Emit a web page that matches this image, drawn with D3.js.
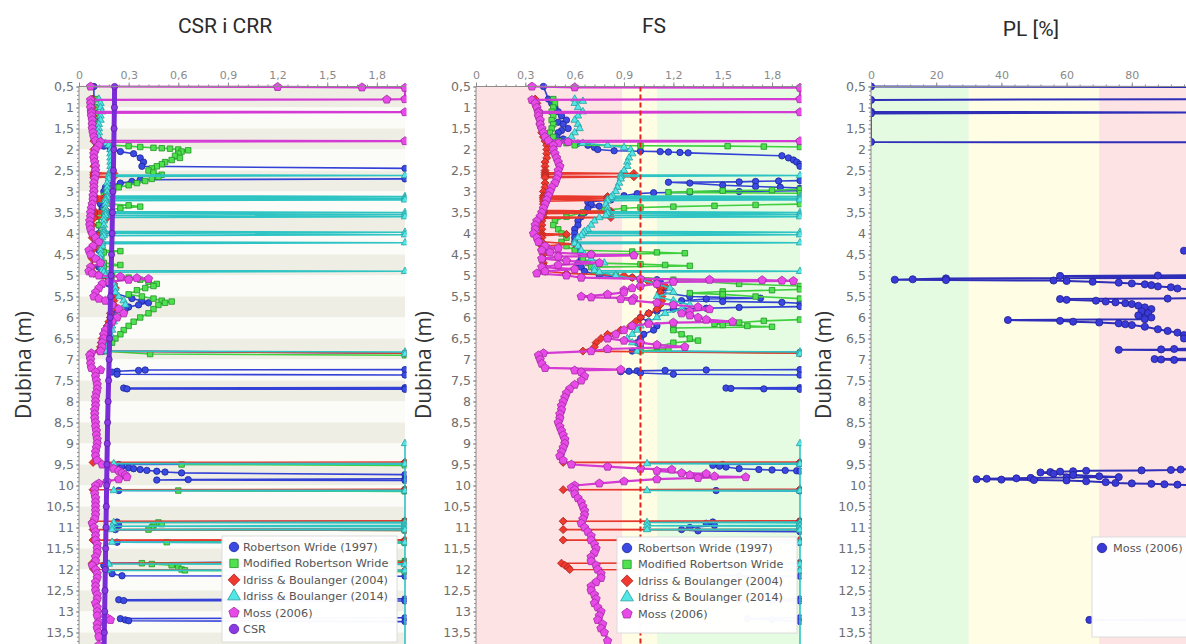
<!DOCTYPE html>
<html><head><meta charset="utf-8">
<script src="https://cdn.jsdelivr.net/npm/d3@7"></script>
<style>body{margin:0;background:#fff}svg{display:block}</style>
</head><body><svg id="c" width="1186" height="644"></svg>
<script>
// ---------------- DATA ----------------
const depthTicks = [0.5,1,1.5,2,2.5,3,3.5,4,4.5,5,5.5,6,6.5,7,7.5,8,8.5,9,9.5,10,10.5,11,11.5,12,12.5,13,13.5];
const ratioTicks = [0,0.3,0.6,0.9,1.2,1.5,1.8];
const plTicks = [0,20,40,60,80];
const titles = ["CSR i CRR","FS","PL [%]"];
const depthLabel = "Dubina (m)";
const methodNames = ["Robertson Wride (1997)","Modified Robertson Wride","Idriss & Boulanger (2004)","Idriss & Boulanger (2014)","Moss (2006)","CSR"];
const fsZones = [0.89, 1.1];
const fsLimit = 1.0;
const plZones = [30, 70];

// [depth (m), value]; null = break in the line (value beyond the plotted range)
const csr = [[0.5,0.215],[1,0.214],[1.5,0.212],[2,0.21],[2.5,0.208],[3,0.205],[3.5,0.202],[4,0.2],[4.5,0.197],[5,0.194],[5.5,0.191],[6,0.188],[6.5,0.185],[7,0.182],[7.5,0.179],[8,0.176],[8.5,0.173],[9,0.171],[9.5,0.169],[10,0.167],[10.5,0.165],[11,0.163],[11.5,0.161],[12,0.159],[12.5,0.157],[13,0.155],[13.5,0.153],[14,0.151]];

const crrRW = [[0.5,0.09],[0.8,0.09],[1.0,0.1],[1.2,0.11],[1.4,0.11],[1.6,0.11],[1.8,0.12],[1.92,0.15],[2.0,0.19],[2.05,0.25],[2.1,0.33],[2.2,0.37],[2.3,0.39],[2.4,0.38],[2.45,2],null,[2.7,2],[2.72,0.37],[2.76,0.32],[2.8,0.25],[2.85,0.2],[2.9,0.16],[3.0,0.15],[3.2,0.13],[3.3,0.13],[3.4,0.14],[3.5,0.13],[3.6,0.12],[3.8,0.12],[4.0,0.12],[4.2,0.12],[4.4,0.12],[4.6,0.13],[4.8,0.12],[4.95,0.13],[5.0,0.15],[5.2,0.18],[5.4,0.2],[5.55,0.32],[5.6,0.38],[5.65,0.42],[5.7,0.36],[5.75,0.3],[5.8,0.28],[5.9,0.22],[6.0,0.2],[6.2,0.18],[6.4,0.17],[6.6,0.16],[6.8,0.15],[6.85,2],null,[7.24,2],[7.25,0.4],[7.26,0.36],[7.28,0.23],[7.3,0.2],[7.35,0.23],[7.37,2],null,[7.67,2],[7.68,0.27],[7.7,0.29],[7.71,2],null,[9.48,2],[9.5,0.24],[9.55,0.26],[9.58,0.3],[9.6,0.33],[9.62,0.37],[9.64,0.41],[9.66,0.47],[9.68,0.52],[9.7,0.62],[9.74,2],null,[9.84,2],[9.86,0.66],[9.87,0.47],[9.88,2],null,[10.1,2],[10.12,0.24],[10.13,2],null,[10.85,2],[10.87,0.23],[10.9,0.23],[10.95,0.24],[11.05,0.22],[11.06,2],null,[11.33,2],[11.35,0.23],[11.36,2],null,[11.8,2],[11.85,0.17],[11.9,0.15],[12.0,0.16],[12.1,0.2],[12.15,0.26],[12.16,2],null,[12.7,2],[12.72,0.24],[12.74,0.27],[12.75,2],null,[13.15,2],[13.17,0.25],[13.2,0.28],[13.22,0.3],[13.24,2],null];

const crrMRW = [[0.8,0.1],[1.0,0.1],[1.2,0.1],[1.4,0.1],[1.6,0.1],[1.8,0.11],[1.9,0.2],[1.92,0.3],[1.94,0.37],[1.96,0.45],[1.97,0.5],[1.98,0.55],[2.0,0.6],[2.02,0.66],[2.05,0.62],[2.1,0.6],[2.15,0.58],[2.2,0.61],[2.25,0.56],[2.3,0.52],[2.35,0.5],[2.4,0.47],[2.45,0.44],[2.5,0.42],[2.55,0.45],[2.6,0.5],[2.65,0.48],[2.7,0.44],[2.75,0.4],[2.8,0.35],[2.85,0.3],[2.9,0.24],[2.95,0.2],[3.0,0.17],[3.1,0.15],[3.2,0.14],[3.3,0.2],[3.33,0.3],[3.36,0.37],[3.4,0.25],[3.45,0.15],[3.6,0.12],[3.8,0.12],[4.0,0.13],[4.2,0.13],[4.4,0.14],[4.42,0.25],[4.45,0.15],[4.7,0.15],[4.75,0.25],[4.8,0.15],[4.95,0.15],[5.0,0.2],[5.05,0.3],[5.1,0.37],[5.15,0.42],[5.2,0.47],[5.25,0.45],[5.3,0.4],[5.35,0.35],[5.45,0.3],[5.5,0.38],[5.55,0.45],[5.6,0.5],[5.62,0.56],[5.65,0.52],[5.7,0.48],[5.8,0.45],[5.9,0.42],[6.0,0.37],[6.1,0.33],[6.2,0.3],[6.3,0.27],[6.4,0.25],[6.5,0.22],[6.6,0.2],[6.7,0.18],[6.8,0.16],[6.87,0.43],[6.9,2],null,[9.48,2],[9.5,0.62],[9.52,2],null,[10.1,2],[10.12,0.6],[10.14,2],null,[10.85,2],[10.88,0.48],[10.92,0.5],[10.95,0.45],[11.0,0.44],[11.05,0.42],[11.07,2],null,[11.33,2],[11.35,0.53],[11.37,2],null,[11.8,2],[11.85,0.38],[11.87,0.44],[11.9,0.56],[11.95,0.6],[12.0,0.62],[12.02,0.64],[12.05,2],null];

const crrIB04 = [[0.8,0.08],[1.0,0.08],[1.2,0.085],[1.4,0.085],[1.6,0.09],[1.8,0.09],[2.0,0.09],[2.2,0.09],[2.4,0.09],[2.55,0.09],[2.57,0.21],[2.59,0.09],[2.63,0.09],[2.65,0.21],[2.67,0.09],[2.8,0.09],[3.0,0.09],[3.1,0.09],[3.12,0.16],[3.14,0.09],[3.17,0.16],[3.19,0.09],[3.22,0.16],[3.24,0.09],[3.45,0.09],[3.47,0.17],[3.49,0.09],[3.52,0.17],[3.54,0.09],[3.6,0.09],[3.62,0.17],[3.64,0.09],[3.8,0.08],[4.0,0.08],[4.05,0.12],[4.1,0.08],[4.3,0.09],[4.35,0.12],[4.4,0.08],[4.6,0.08],[4.8,0.08],[4.95,0.09],[5.0,0.15],[5.1,0.19],[5.2,0.21],[5.3,0.22],[5.4,0.21],[5.5,0.21],[5.6,0.21],[5.7,0.21],[5.8,0.2],[5.9,0.19],[6.0,0.19],[6.1,0.18],[6.2,0.17],[6.3,0.16],[6.4,0.15],[6.5,0.14],[6.6,0.135],[6.7,0.13],[6.8,0.12],[6.85,2],null,[9.44,2],[9.45,0.085],[9.46,2],null,[10.09,2],[10.1,0.085],[10.11,2],null,[10.84,2],[10.85,0.085],[10.87,2],null,[11.03,2],[11.05,0.085],[11.07,2],null,[11.29,2],[11.3,0.085],[11.31,2],null,[11.83,2],[11.85,0.08],[11.9,0.085],[11.95,0.09],[12.0,0.09],[12.02,2],null];

const crrIB14 = [[0.8,0.12],[0.9,0.13],[1.0,0.13],[1.1,0.14],[1.2,0.13],[1.3,0.13],[1.4,0.12],[1.5,0.12],[1.6,0.12],[1.7,0.12],[1.8,0.13],[1.85,0.16],[1.9,0.18],[2.0,0.19],[2.1,0.19],[2.2,0.19],[2.3,0.19],[2.4,0.19],[2.5,0.19],[2.6,0.18],[2.62,2],[2.64,0.18],[2.7,0.18],[2.8,0.17],[2.9,0.17],[3.0,0.17],[3.1,0.17],[3.12,2],[3.14,0.17],[3.16,2],[3.18,0.16],[3.2,2],[3.22,0.16],[3.3,0.16],[3.4,0.16],[3.48,0.16],[3.5,2],[3.52,0.16],[3.55,2],[3.57,0.16],[3.6,2],[3.62,0.15],[3.7,0.15],[3.8,0.15],[3.9,0.15],[3.95,0.15],[3.97,2],[3.99,0.15],[4.03,2],[4.05,0.15],[4.1,0.14],[4.2,0.14],[4.22,2],[4.24,0.14],[4.3,0.14],[4.4,0.13],[4.5,0.13],[4.6,0.13],[4.7,0.14],[4.8,0.14],[4.88,0.14],[4.9,2],[4.92,0.15],[5.0,0.16],[5.1,0.19],[5.2,0.21],[5.3,0.22],[5.4,0.22],[5.5,0.24],[5.6,0.27],[5.7,0.28],[5.8,0.26],[5.9,0.24],[6.0,0.22],[6.1,0.21],[6.2,0.2],[6.3,0.2],[6.4,0.19],[6.5,0.18],[6.6,0.18],[6.7,0.17],[6.8,0.16],[6.82,2],[6.87,2],null,[9.0,2],[9.47,2],[9.48,0.21],[9.49,2],[10.11,2],[10.12,0.21],[10.13,2],[10.87,2],[10.88,0.21],[10.89,2],[10.95,2],[10.97,0.2],[10.98,2],[11.03,2],[11.05,0.2],[11.06,2],[11.34,2],[11.35,0.2],[11.36,2],[11.86,2],[11.87,0.18],[11.88,2],[12.01,2],[12.02,0.17],[12.03,2],[14.2,2]];

const crrMoss = [[0.5,0.07],[0.51,1.2],[0.52,1.71],[0.53,2],[0.8,2],[0.81,1.86],[0.82,0.07],[0.9,0.07],[1.0,0.07],[1.1,0.075],[1.11,2],[1.13,0.075],[1.2,0.075],[1.3,0.08],[1.4,0.08],[1.5,0.08],[1.6,0.085],[1.7,0.09],[1.79,0.1],[1.8,2],[1.82,0.13],[1.9,0.12],[2.0,0.1],[2.1,0.09],[2.2,0.09],[2.3,0.095],[2.4,0.1],[2.5,0.1],[2.6,0.1],[2.7,0.095],[2.8,0.09],[2.9,0.09],[3.0,0.09],[3.1,0.085],[3.2,0.085],[3.3,0.08],[3.4,0.075],[3.5,0.07],[3.6,0.07],[3.7,0.065],[3.8,0.065],[3.9,0.07],[4.0,0.08],[4.1,0.1],[4.2,0.12],[4.3,0.085],[4.4,0.06],[4.5,0.07],[4.6,0.1],[4.7,0.13],[4.8,0.07],[4.9,0.06],[4.95,0.08],[5.0,0.12],[5.03,0.25],[5.06,0.35],[5.08,0.42],[5.1,0.3],[5.15,0.18],[5.2,0.14],[5.3,0.12],[5.4,0.1],[5.5,0.09],[5.55,0.12],[5.6,0.16],[5.7,0.2],[5.8,0.24],[5.9,0.27],[6.0,0.23],[6.1,0.2],[6.2,0.18],[6.3,0.16],[6.4,0.15],[6.5,0.15],[6.6,0.14],[6.7,0.14],[6.8,0.13],[6.85,0.075],[6.9,0.065],[7.0,0.07],[7.1,0.07],[7.2,0.075],[7.25,0.13],[7.3,0.1],[7.4,0.1],[7.5,0.105],[7.6,0.11],[7.7,0.11],[7.8,0.105],[7.9,0.1],[8.0,0.1],[8.1,0.1],[8.2,0.095],[8.3,0.095],[8.4,0.095],[8.5,0.1],[8.6,0.1],[8.7,0.105],[8.8,0.105],[8.9,0.11],[9.0,0.11],[9.1,0.105],[9.2,0.1],[9.3,0.1],[9.4,0.11],[9.5,0.14],[9.55,0.18],[9.6,0.21],[9.65,0.24],[9.7,0.26],[9.75,0.28],[9.8,0.29],[9.85,0.24],[9.9,0.17],[9.95,0.12],[10.0,0.1],[10.1,0.095],[10.2,0.095],[10.3,0.1],[10.4,0.1],[10.5,0.1],[10.6,0.1],[10.7,0.1],[10.8,0.095],[10.9,0.08],[11.0,0.09],[11.1,0.1],[11.2,0.1],[11.3,0.1],[11.4,0.11],[11.5,0.11],[11.6,0.11],[11.7,0.1],[11.8,0.1],[11.9,0.08],[12.0,0.1],[12.1,0.11],[12.2,0.11],[12.3,0.1],[12.4,0.1],[12.5,0.1],[12.6,0.11],[12.7,0.11],[12.8,0.1],[12.9,0.11],[13.0,0.11],[13.1,0.11],[13.15,0.17],[13.2,0.19],[13.25,0.12],[13.3,0.11],[13.4,0.11],[13.5,0.12],[13.6,0.12],[13.8,0.12],[14.0,0.12]];

const fsRW = [[0.5,0.41],[0.8,0.44],[0.9,0.46],[1.0,0.48],[1.1,0.5],[1.2,0.52],[1.3,0.55],[1.35,0.5],[1.4,0.53],[1.5,0.56],[1.55,0.52],[1.6,0.5],[1.7,0.49],[1.75,0.53],[1.8,0.56],[1.85,0.62],[1.9,0.68],[1.95,0.72],[2.0,0.74],[2.03,0.84],[2.04,1.0],[2.05,1.12],[2.06,1.17],[2.07,1.24],[2.08,1.29],[2.15,1.86],[2.2,1.9],[2.25,1.93],[2.3,1.95],[2.35,1.98],[2.4,2],null,[2.74,2],[2.75,1.84],[2.76,1.7],[2.77,1.6],[2.78,1.17],[2.8,1.3],[2.85,1.5],[2.88,1.7],[2.9,1.85],[2.92,2],null,[2.98,2],[3.0,1.6],[3.02,1.3],[3.03,1.08],[3.05,0.98],[3.1,0.9],[3.2,0.82],[3.25,0.68],[3.3,0.7],[3.35,0.75],[3.4,0.68],[3.5,0.66],[3.6,0.64],[3.7,0.62],[3.8,0.62],[3.9,0.6],[4.0,0.6],[4.1,0.6],[4.2,0.6],[4.3,0.62],[4.4,0.62],[4.5,0.64],[4.6,0.64],[4.7,0.62],[4.8,0.64],[4.9,0.66],[5.0,0.75],[5.05,0.95],[5.1,1.1],[5.15,1.12],[5.2,1.1],[5.3,1.15],[5.4,1.12],[5.5,1.3],[5.52,1.5],[5.54,1.73],[5.56,1.4],[5.6,1.25],[5.62,1.5],[5.64,1.86],[5.66,2],null,[5.74,2],[5.76,1.6],[5.78,1.4],[5.8,1.2],[5.85,1.1],[5.9,1.05],[6.0,1.0],[6.1,1.05],[6.2,1.1],[6.3,1.08],[6.4,1.02],[6.5,1.0],[6.6,0.98],[6.7,1.0],[6.8,0.95],[6.83,2],null,[7.24,2],[7.25,1.4],[7.26,1.15],[7.27,0.98],[7.28,0.93],[7.29,0.88],[7.32,1.0],[7.35,1.2],[7.37,2],null,[7.67,2],[7.68,1.52],[7.69,1.55],[7.7,1.75],[7.71,2],null,[9.49,2],[9.5,1.5],[9.52,1.44],[9.54,1.48],[9.56,1.52],[9.6,1.6],[9.62,1.72],[9.63,1.8],[9.64,1.88],[9.65,1.95],[9.66,2],null,[10.11,2],[10.12,1.46],[10.13,2],null,[10.85,2],[10.87,1.44],[10.9,1.4],[10.95,1.45],[11.0,1.3],[11.05,1.25],[11.08,1.35],[11.1,2],null,[11.34,2],[11.35,1.45],[11.36,2],null,[11.84,2],[11.85,1.1],[11.9,1.0],[12.0,1.05],[12.1,1.3],[12.15,1.6],[12.16,2],null,[12.7,2],[12.72,1.6],[12.74,1.8],[12.75,2],null,[13.15,2],[13.17,1.65],[13.2,1.8],[13.24,2],null];

const fsMRW = [[0.8,0.47],[0.9,0.48],[1.0,0.47],[1.1,0.46],[1.2,0.47],[1.3,0.46],[1.4,0.47],[1.5,0.46],[1.6,0.45],[1.7,0.47],[1.8,0.5],[1.85,0.55],[1.9,0.6],[1.91,1.0],[1.92,1.53],[1.93,1.75],[1.94,2],null,[2.95,2],[2.97,1.8],[2.98,1.5],[3.0,1.3],[3.02,1.17],[3.04,2],null,[3.3,2],[3.32,1.7],[3.34,1.45],[3.36,1.2],[3.38,1.0],[3.4,0.9],[3.45,0.78],[3.5,0.65],[3.6,0.55],[3.7,0.48],[3.8,0.47],[3.9,0.5],[4.0,0.52],[4.1,0.55],[4.2,0.52],[4.3,0.55],[4.4,0.6],[4.43,0.95],[4.45,1.1],[4.47,1.27],[4.5,0.7],[4.6,0.65],[4.7,0.68],[4.73,1.0],[4.75,1.15],[4.77,1.3],[4.8,0.7],[4.9,0.72],[5.0,0.85],[5.1,1.2],[5.2,1.6],[5.25,2],null,[5.33,2],[5.35,1.8],[5.38,1.5],[5.42,1.3],[5.45,1.5],[5.5,1.7],[5.55,2],null,[6.05,2],[6.08,1.75],[6.12,1.6],[6.15,1.45],[6.18,1.5],[6.2,1.65],[6.22,1.8],[6.25,1.2],[6.3,1.2],[6.4,1.25],[6.5,1.3],[6.55,1.35],[6.6,1.2],[6.7,1.1],[6.75,1.17],[6.8,1.0],[6.85,2],null];

const fsIB04 = [[0.8,0.36],[0.9,0.37],[1.0,0.37],[1.1,0.38],[1.2,0.38],[1.3,0.39],[1.4,0.39],[1.5,0.4],[1.6,0.4],[1.7,0.41],[1.8,0.42],[1.9,0.43],[2.0,0.43],[2.1,0.43],[2.2,0.43],[2.3,0.42],[2.4,0.42],[2.5,0.42],[2.55,0.42],[2.57,0.96],[2.59,0.42],[2.63,0.42],[2.65,0.96],[2.67,0.42],[2.8,0.42],[2.9,0.42],[3.0,0.41],[3.1,0.41],[3.12,0.8],[3.14,0.41],[3.16,0.8],[3.18,0.41],[3.21,0.8],[3.23,0.41],[3.3,0.41],[3.45,0.41],[3.47,0.82],[3.49,0.41],[3.51,0.82],[3.53,0.41],[3.6,0.41],[3.62,0.82],[3.64,0.4],[3.7,0.4],[3.8,0.4],[3.9,0.4],[4.0,0.4],[4.02,0.55],[4.05,0.4],[4.1,0.4],[4.2,0.4],[4.25,0.6],[4.3,0.4],[4.4,0.4],[4.5,0.41],[4.6,0.41],[4.7,0.41],[4.8,0.42],[4.9,0.42],[4.95,0.55],[5.0,0.9],[5.05,0.95],[5.1,1.0],[5.15,1.05],[5.2,1.1],[5.25,1.15],[5.3,1.12],[5.4,1.12],[5.5,1.13],[5.6,1.13],[5.7,1.12],[5.8,1.1],[5.9,1.05],[6.0,1.0],[6.1,0.97],[6.2,0.94],[6.3,0.88],[6.4,0.8],[6.5,0.76],[6.6,0.73],[6.7,0.72],[6.8,0.65],[6.85,2],null,[9.44,2],[9.45,0.53],[9.46,2],null,[10.09,2],[10.1,0.53],[10.11,2],null,[10.84,2],[10.85,0.53],[10.86,2],null,[11.04,2],[11.05,0.53],[11.06,2],null,[11.29,2],[11.3,0.53],[11.31,2],null,[11.84,2],[11.85,0.52],[11.9,0.54],[11.95,0.56],[12.0,0.57],[12.02,2],null];

const fsIB14 = [[0.8,0.6],[0.85,0.65],[0.9,0.6],[1.0,0.62],[1.1,0.65],[1.2,0.62],[1.3,0.6],[1.4,0.62],[1.5,0.63],[1.6,0.6],[1.7,0.58],[1.8,0.55],[1.85,0.65],[1.9,0.8],[1.95,0.9],[2.0,0.94],[2.1,0.95],[2.2,0.93],[2.3,0.92],[2.4,0.92],[2.5,0.9],[2.6,0.88],[2.62,2],[2.64,0.88],[2.7,0.88],[2.8,0.87],[2.9,0.86],[3.0,0.85],[3.1,0.83],[3.12,2],[3.14,0.82],[3.16,2],[3.18,0.8],[3.2,2],[3.22,0.8],[3.3,0.79],[3.4,0.8],[3.48,0.8],[3.5,2],[3.52,0.8],[3.55,2],[3.57,0.79],[3.6,2],[3.62,0.75],[3.7,0.72],[3.8,0.7],[3.9,0.68],[3.95,0.66],[3.97,2],[3.99,0.65],[4.03,2],[4.05,0.64],[4.1,0.62],[4.2,0.6],[4.22,2],[4.24,0.6],[4.3,0.62],[4.4,0.64],[4.5,0.66],[4.6,0.7],[4.7,0.78],[4.8,0.72],[4.88,0.72],[4.9,2],[4.92,0.75],[5.0,0.85],[5.1,1.0],[5.2,1.1],[5.3,1.18],[5.4,1.2],[5.5,1.1],[5.6,1.2],[5.7,1.3],[5.8,1.25],[5.9,1.15],[6.0,1.1],[6.1,1.05],[6.2,1.0],[6.3,0.98],[6.4,0.95],[6.5,0.92],[6.6,0.95],[6.7,1.0],[6.8,0.98],[6.82,2],[6.87,2],null,[9.0,2],[9.47,2],[9.48,1.04],[9.49,2],[10.11,2],[10.12,1.04],[10.13,2],[10.87,2],[10.88,1.04],[10.89,2],[10.95,2],[10.96,1.04],[10.97,2],[11.04,2],[11.05,1.04],[11.06,2],[11.34,2],[11.35,1.04],[11.36,2],[11.86,2],[11.87,1.04],[11.88,2],[12.01,2],[12.02,1.04],[12.03,2],[14.2,2]];

const fsMoss = [[0.5,0.34],[0.52,0.6],[0.53,2],[0.8,2],[0.82,0.34],[0.9,0.36],[1.0,0.37],[1.1,0.38],[1.11,2],[1.13,0.38],[1.2,0.38],[1.3,0.39],[1.4,0.39],[1.5,0.4],[1.6,0.41],[1.7,0.42],[1.79,0.44],[1.8,2],[1.82,0.56],[1.85,0.5],[1.9,0.47],[2.0,0.47],[2.1,0.48],[2.2,0.49],[2.3,0.5],[2.4,0.51],[2.5,0.5],[2.6,0.5],[2.7,0.49],[2.8,0.48],[2.9,0.46],[3.0,0.45],[3.1,0.44],[3.2,0.43],[3.3,0.42],[3.4,0.41],[3.5,0.4],[3.6,0.39],[3.7,0.37],[3.8,0.36],[3.9,0.36],[4.0,0.35],[4.1,0.37],[4.2,0.38],[4.3,0.42],[4.35,0.5],[4.4,0.4],[4.45,0.45],[4.5,0.7],[4.52,0.96],[4.55,0.5],[4.6,0.4],[4.65,0.55],[4.7,0.75],[4.75,0.5],[4.8,0.4],[4.85,0.6],[4.9,0.42],[4.95,0.37],[5.0,0.55],[5.05,0.64],[5.08,1.0],[5.1,1.42],[5.11,1.74],[5.12,1.86],[5.13,1.93],[5.15,1.2],[5.2,1.1],[5.25,1.0],[5.3,0.95],[5.35,0.9],[5.4,0.9],[5.45,0.8],[5.5,0.64],[5.52,0.7],[5.54,0.96],[5.56,0.88],[5.6,0.95],[5.65,1.1],[5.7,1.2],[5.75,1.35],[5.8,1.42],[5.85,1.3],[5.9,1.25],[5.95,1.3],[6.0,1.35],[6.05,1.4],[6.1,1.56],[6.12,1.2],[6.15,1.05],[6.2,0.95],[6.3,0.9],[6.4,0.85],[6.5,0.8],[6.55,0.9],[6.6,1.0],[6.65,1.1],[6.7,1.27],[6.75,0.8],[6.8,0.7],[6.85,0.41],[6.9,0.38],[7.0,0.39],[7.1,0.4],[7.2,0.42],[7.24,0.88],[7.26,0.6],[7.3,0.64],[7.4,0.66],[7.5,0.64],[7.6,0.6],[7.7,0.57],[7.8,0.55],[7.9,0.54],[8.0,0.53],[8.1,0.52],[8.2,0.52],[8.3,0.51],[8.4,0.51],[8.5,0.5],[8.6,0.51],[8.7,0.52],[8.8,0.53],[8.9,0.54],[9.0,0.54],[9.1,0.53],[9.2,0.52],[9.3,0.51],[9.4,0.53],[9.5,0.58],[9.55,0.8],[9.6,1.0],[9.62,1.19],[9.65,1.1],[9.7,1.25],[9.72,1.4],[9.75,1.3],[9.78,1.45],[9.8,1.64],[9.82,1.35],[9.85,1.1],[9.9,0.9],[9.95,0.75],[10.0,0.6],[10.05,0.58],[10.1,0.6],[10.2,0.6],[10.3,0.62],[10.4,0.64],[10.5,0.65],[10.6,0.66],[10.7,0.66],[10.8,0.65],[10.9,0.64],[11.0,0.66],[11.1,0.68],[11.2,0.7],[11.3,0.7],[11.4,0.72],[11.5,0.73],[11.6,0.72],[11.7,0.7],[11.8,0.7],[11.9,0.73],[12.0,0.74],[12.1,0.76],[12.2,0.76],[12.3,0.73],[12.4,0.7],[12.5,0.7],[12.6,0.72],[12.7,0.73],[12.8,0.72],[12.9,0.74],[13.0,0.76],[13.1,0.75],[13.2,0.74],[13.3,0.77],[13.4,0.76],[13.5,0.78],[13.7,0.8],[14.0,0.8]];

const plMoss = [[0.5,0],[0.51,100],[0.8,100],[0.82,0],[1.1,0],[1.12,100],[1.14,0],[1.82,0],[1.83,100],null,[4.4,100],[4.41,96],[4.42,100],null,[4.99,100],[5.0,88],[5.01,58],[5.03,100],[5.06,100],[5.07,23],[5.09,12.8],[5.1,7.3],[5.11,23],[5.12,56],[5.13,60],[5.15,68],[5.17,76],[5.19,80],[5.21,84],[5.23,86],[5.26,88],[5.28,92],[5.31,94],[5.33,100],null,[5.54,100],[5.55,91],[5.56,58],[5.58,60],[5.6,69],[5.62,72],[5.64,75],[5.66,78],[5.68,80],[5.72,82],[5.76,84],[5.8,86],[5.85,83],[5.9,85],[5.95,82],[6.0,86],[6.04,84],[6.06,42],[6.08,58],[6.1,62],[6.12,70],[6.14,76],[6.16,78],[6.18,80],[6.22,84],[6.28,88],[6.32,91],[6.36,94],[6.42,96],[6.5,96],[6.55,100],null,[6.74,100],[6.75,93],[6.76,89],[6.77,76],[6.78,100],null,[6.98,100],[6.99,87],[7.0,89],[7.01,93],[7.02,100],null,[9.6,100],[9.62,95],[9.63,92],[9.64,83],[9.65,66],[9.66,62],[9.67,58],[9.68,55],[9.69,52],[9.72,56],[9.75,62],[9.78,70],[9.8,76],[9.81,60],[9.82,49],[9.83,44.6],[9.84,35.5],[9.85,32.4],[9.86,40],[9.87,50],[9.88,60],[9.9,66],[9.92,72],[9.94,75],[9.95,80],[9.96,86],[9.97,90],[9.98,94],[10.0,100],null,[13.19,100],[13.2,67],[13.21,100]];

// ---------------- STYLE ----------------
const styles = {
  rw:   {line:"#3341d6", fill:"#3a4ae2", stroke:"#1c2696", shape:"circle",   size:32},
  mrw:  {line:"#3fcf3f", fill:"#4fe24f", stroke:"#23922a", shape:"square",   size:30},
  ib04: {line:"#e8392f", fill:"#f03a30", stroke:"#a51f1a", shape:"diamond",  size:32},
  ib14: {line:"#2fc4c4", fill:"#52e6e6", stroke:"#26a0a0", shape:"triangle", size:24},
  moss: {line:"#d43ad4", fill:"#e84ae8", stroke:"#a12aa1", shape:"pentagon", size:46, lw:2.2},
  csr:  {line:"#7a2cd6", fill:"#8a3ae2", stroke:"#5a1aa8", shape:"circle",   size:30, lw:5},
  pl:   {line:"#2e2eb8", fill:"#3a3ad8", stroke:"#1e1e90", shape:"circle",   size:40, lw:2}
};

const symPentagon = {draw(ctx,size){const r=Math.sqrt(size/2.3776);for(let i=0;i<5;i++){const a=-Math.PI/2+i*2*Math.PI/5;const px=r*Math.cos(a),py=r*Math.sin(a);i?ctx.lineTo(px,py):ctx.moveTo(px,py);}ctx.closePath();}};
const symDiamondSq = {draw(ctx,size){const r=Math.sqrt(size/2);ctx.moveTo(0,-r);ctx.lineTo(r,0);ctx.lineTo(0,r);ctx.lineTo(-r,0);ctx.closePath();}};
const symType = {circle:d3.symbolCircle, square:d3.symbolSquare, diamond:symDiamondSq, triangle:d3.symbolTriangle, pentagon:symPentagon};

// ---------------- DRAW ----------------
const W=1186, H=644;
const svg = d3.select("#c");
const y = d3.scaleLinear().domain([0.5,13.5]).range([86.5,632.5]);
const fmt = v => String(+v.toFixed(2)).replace(".", ",");
const defs = svg.append("defs");
const AX = "#8c8c8c";

function drawPanel(cfg){
  const x = d3.scaleLinear().domain(cfg.domain).range(cfg.range).clamp(true);
  const [x0,x1] = cfg.range;
  const g = svg.append("g");
  cfg.background(g, x);
  defs.append("clipPath").attr("id","clip"+cfg.id).append("rect")
    .attr("x", x0).attr("y", y(0.5)-5).attr("width", x1-x0+1.5).attr("height", H);
  const dg = g.append("g").attr("clip-path", `url(#clip${cfg.id})`);
  cfg.series.forEach(s => {
    const st = styles[s.style];
    const line = d3.line().defined(d => d != null).x(d => x(d[1])).y(d => y(d[0]));
    dg.append("path").attr("d", line(s.data)).attr("fill","none")
      .attr("stroke", st.line).attr("stroke-width", st.lw || 1.6).attr("stroke-linejoin","round");
    const sym = d3.symbol(symType[st.shape], st.size);
    dg.append("g").selectAll("path").data(s.data.filter(d => d != null)).join("path")
      .attr("transform", d => `translate(${x(d[1])},${y(d[0])})`)
      .attr("d", sym).attr("fill", st.fill).attr("stroke", st.stroke).attr("stroke-width", 0.8);
  });
  if (cfg.overlay) cfg.overlay(g, x);
  const ay = g.append("g").attr("transform", `translate(${x0},0)`);
  ay.append("g").call(d3.axisLeft(y).tickValues(d3.range(0.5, 14.05, 0.1)).tickSize(2).tickFormat(""));
  ay.append("g").call(d3.axisLeft(y).tickValues(depthTicks).tickSize(3).tickPadding(2).tickFormat(fmt));
  ay.selectAll(".domain").remove();
  ay.selectAll("line").attr("stroke", AX);
  ay.selectAll("text").attr("fill","#6e6e6e").style("font","12.5px 'DejaVu Sans', Verdana, sans-serif");
  ay.append("line").attr("x1",0).attr("x2",0).attr("y1",y(0.5)).attr("y2",H).attr("stroke",AX);
  const ax = g.append("g").attr("transform", `translate(0,${y(0.5)})`);
  ax.append("g").call(d3.axisTop(x).tickValues(cfg.minorX).tickSize(2).tickFormat(""));
  ax.append("g").call(d3.axisTop(x).tickValues(cfg.ticks).tickSize(4).tickPadding(4).tickFormat(cfg.tickFmt));
  ax.selectAll(".domain").remove();
  ax.selectAll("line").attr("stroke", AX);
  ax.selectAll("text").attr("fill","#8a8a8a").style("font","11px 'DejaVu Sans', Verdana, sans-serif");
  ax.append("line").attr("x1",x0).attr("x2",Math.min(x1,W)).attr("y1",0).attr("y2",0).attr("stroke",AX);
  svg.append("text").attr("x", cfg.titleX).attr("y", cfg.titleY).attr("text-anchor","middle")
    .attr("fill","#2b2b2b").style("font","21px Roboto, 'Open Sans', sans-serif").text(cfg.title);
  svg.append("text").attr("transform", `translate(${cfg.labelX},365) rotate(-90)`).attr("text-anchor","middle")
    .attr("fill","#333").style("font","21px 'Open Sans', sans-serif").text(depthLabel);
  const L = cfg.legend;
  const lg = svg.append("g");
  lg.append("rect").attr("x",L.x).attr("y",L.y).attr("width",L.w).attr("height",L.h)
    .attr("fill","#fff").attr("fill-opacity",0.97).attr("stroke","#dcdcdc");
  L.items.forEach((it,i) => {
    const st = styles[it.style];
    const cy = L.y + 11 + i*16.4;
    lg.append("path").attr("transform",`translate(${L.x+L.mx},${cy})`)
      .attr("d", d3.symbol(symType[st.shape], 70)()).attr("fill", st.fill).attr("stroke", st.stroke).attr("stroke-width",0.8);
    lg.append("text").attr("x", L.x+L.tx).attr("y", cy).attr("dy","0.36em").attr("fill","#555")
      .style("font","11.3px 'DejaVu Sans', Verdana, sans-serif").text(it.name);
  });
}

const ratioMinor = d3.range(0, 2.0, 0.06);

drawPanel({
  id:1, domain:[0,1.97], range:[79,405], ticks:ratioTicks, minorX:ratioMinor, tickFmt:fmt,
  title:titles[0], titleX:225, titleY:33, labelX:31,
  background:(g,x) => {
    depthTicks.concat([14]).forEach(d => {
      g.append("rect").attr("x",x(0)).attr("width",x(1.97)-x(0))
        .attr("y",y(d)).attr("height",y(d+0.5)-y(d))
        .attr("fill", (Math.round(d*2)%2===1) ? "#efeee5" : "#fbfbf8");
    });
  },
  series:[{style:"rw",data:crrRW},{style:"mrw",data:crrMRW},{style:"ib04",data:crrIB04},{style:"ib14",data:crrIB14},{style:"moss",data:crrMoss},{style:"csr",data:csr}],
  legend:{x:222,y:536,w:175,h:106,mx:12,tx:21,items:[
    {name:methodNames[0],style:"rw"},{name:methodNames[1],style:"mrw"},{name:methodNames[2],style:"ib04"},
    {name:methodNames[3],style:"ib14"},{name:methodNames[4],style:"moss"},{name:methodNames[5],style:"csr"}]}
});

drawPanel({
  id:2, domain:[0,1.97], range:[476,800], ticks:ratioTicks, minorX:ratioMinor, tickFmt:fmt,
  title:titles[1], titleX:654, titleY:33, labelX:431,
  background:(g,x) => {
    const zones = [[0,fsZones[0],"#fde3e3"],[fsZones[0],fsZones[1],"#fffde4"],[fsZones[1],1.97,"#e5fbe2"]];
    zones.forEach(z => g.append("rect").attr("x",x(z[0])).attr("width",x(z[1])-x(z[0]))
      .attr("y",y(0.5)).attr("height",H).attr("fill",z[2]));
  },
  overlay:(g,x) => {
    g.append("line").attr("x1",x(fsLimit)).attr("x2",x(fsLimit)).attr("y1",y(0.5)).attr("y2",H)
      .attr("stroke","#e4231f").attr("stroke-width",2).attr("stroke-dasharray","5,3");
  },
  series:[{style:"rw",data:fsRW},{style:"mrw",data:fsMRW},{style:"ib04",data:fsIB04},{style:"ib14",data:fsIB14},{style:"moss",data:fsMoss}],
  legend:{x:617,y:537,w:180,h:96,mx:10,tx:21,items:[
    {name:methodNames[0],style:"rw"},{name:methodNames[1],style:"mrw"},{name:methodNames[2],style:"ib04"},
    {name:methodNames[3],style:"ib14"},{name:methodNames[4],style:"moss"}]}
});

drawPanel({
  id:3, domain:[0,100], range:[871,1197], ticks:plTicks, minorX:d3.range(0,101,4), tickFmt:d3.format("d"),
  title:titles[2], titleX:1031, titleY:36, labelX:831,
  background:(g,x) => {
    const zones = [[0,plZones[0],"#e4fbe1"],[plZones[0],plZones[1],"#fffde4"],[plZones[1],100,"#fde3e3"]];
    zones.forEach(z => g.append("rect").attr("x",x(z[0])).attr("width",x(z[1])-x(z[0]))
      .attr("y",y(0.5)).attr("height",H).attr("fill",z[2]));
  },
  series:[{style:"pl",data:plMoss}],
  legend:{x:1092,y:537,w:110,h:100,mx:10,tx:21,items:[{name:methodNames[4],style:"pl"}]}
});
</script></body></html>
